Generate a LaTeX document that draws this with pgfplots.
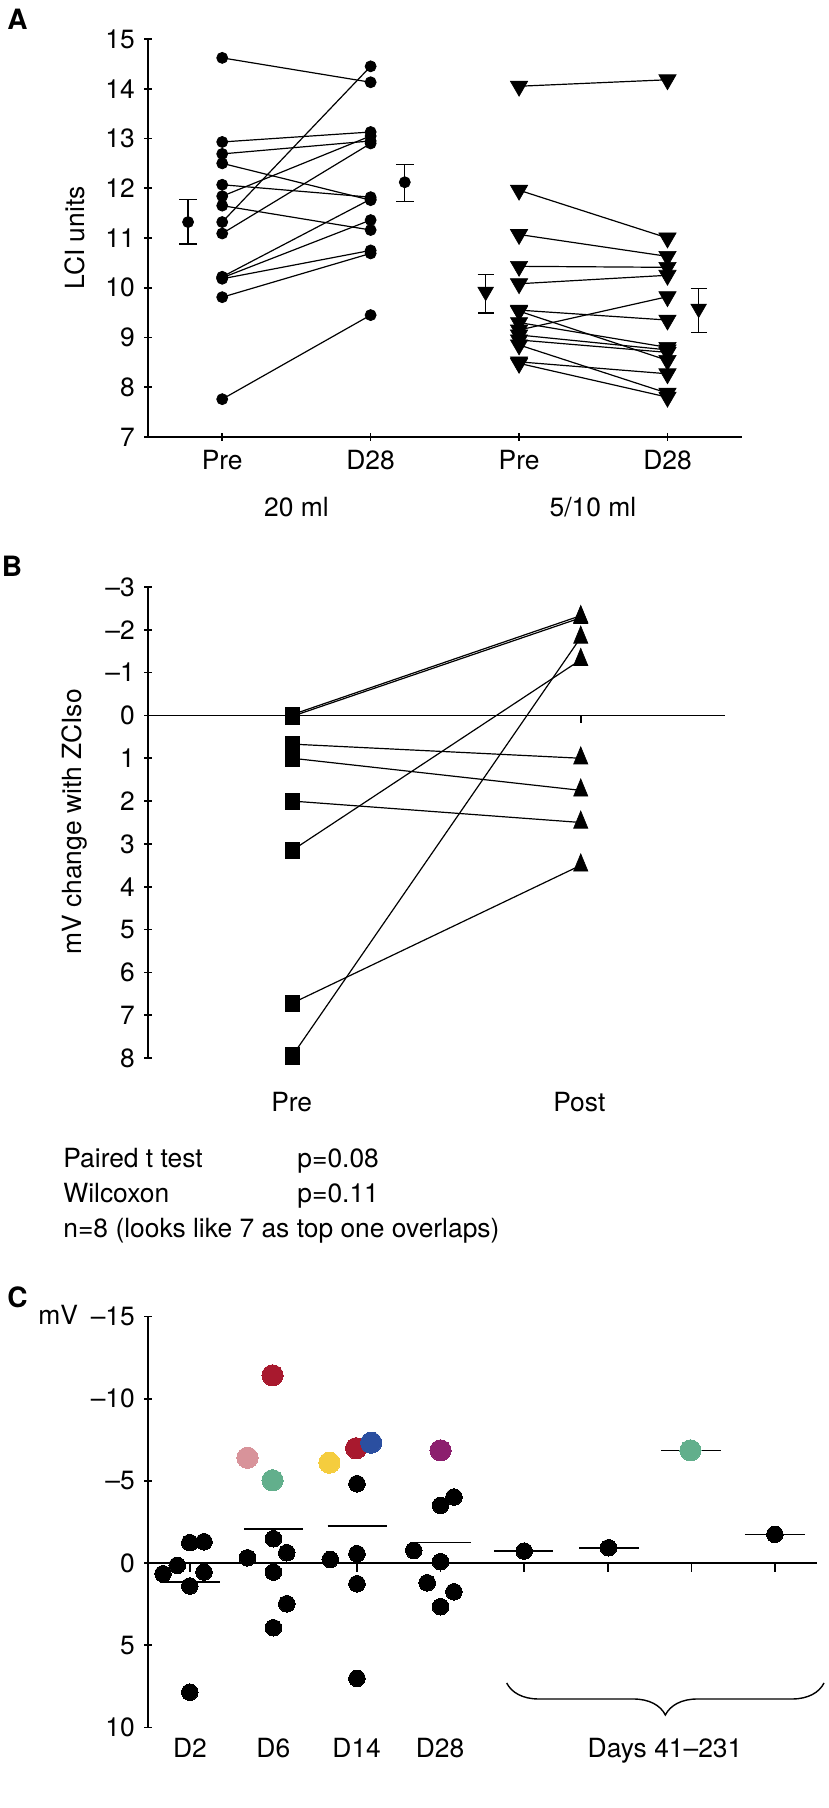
\documentclass[border=0pt]{standalone}
\usepackage{pgfplots}
\pgfplotsset{compat=1.18}
\usepackage{fontspec}
\setmainfont{TeX Gyre Heros}
\usetikzlibrary{decorations.pathreplacing}
\definecolor{cred}{HTML}{A8192E}
\definecolor{cblue}{HTML}{2B4FA0}
\definecolor{cyellow}{HTML}{F5CD3E}
\definecolor{cpink}{HTML}{D8939A}
\definecolor{cgreen}{HTML}{62AF8C}
\definecolor{cpurple}{HTML}{8C1F6E}
\pgfplotsset{
  pA/.style={black, line width=0.6pt, mark=*, mark size=2.75pt, mark options={solid, fill=black, line width=0.4pt}},
  pB/.style={black, line width=0.6pt, mark=triangle*, mark size=5pt, mark options={solid, fill=black, rotate=180, line width=0.3pt}},
  pL/.style={black, line width=0.6pt, mark=none},
  pS/.style={black, only marks, mark=square*, mark size=3.4pt, mark options={solid, fill=black, yscale=1.2, line width=0.3pt}},
  pT/.style={black, only marks, mark=triangle*, mark size=4.1pt, mark options={solid, fill=black, yscale=1.4, line width=0.3pt}},
  cdot/.style={only marks, mark=*, mark size=5.3pt, color=#1, mark options={draw=#1, fill=#1, line width=0pt}},
  common/.style={scale only axis, anchor=south west, clip=false,
    tick align=outside, major tick length=4pt,
    every tick/.style={black, line width=0.8pt},
    tick label style={font=\fontsize{13.2}{15.8}\selectfont},
    /pgf/number format/assume math mode=true},
}
\begin{document}
\fontsize{13.2}{15.8}\selectfont
\begin{tikzpicture}
\path[use as bounding box] (0,0) rectangle (414.5pt,904pt);
% ---------------- Panel A
\begin{axis}[common, at={(74pt,685.5pt)}, width=296.85pt, height=199pt,
  xmin=0.5, xmax=4.5, ymin=7, ymax=15,
  axis lines=left, axis line style={-, line width=0.8pt},
  xtick={1,2,3,4}, xticklabels={Pre,D28,Pre,D28},
  ytick={7,8,...,15}]
% 20 ml pairs
\addplot[pA] coordinates {(1,14.62) (2,14.13)};
\addplot[pA] coordinates {(1,12.93) (2,13.13)};
\addplot[pA] coordinates {(1,12.69) (2,12.95)};
\addplot[pA] coordinates {(1,12.50) (2,11.76)};
\addplot[pA] coordinates {(1,12.07) (2,11.82)};
\addplot[pA] coordinates {(1,11.84) (2,13.05)};
\addplot[pA] coordinates {(1,11.65) (2,11.16)};
\addplot[pA] coordinates {(1,11.32) (2,14.45)};
\addplot[pA] coordinates {(1,11.09) (2,12.90)};
\addplot[pA] coordinates {(1,10.22) (2,11.78)};
\addplot[pA] coordinates {(1,10.20) (2,11.36)};
\addplot[pA] coordinates {(1,10.18) (2,10.75)};
\addplot[pA] coordinates {(1,9.81) (2,10.69)};
\addplot[pA] coordinates {(1,7.76) (2,9.45)};
% 5/10 ml pairs
\addplot[pB] coordinates {(3,14.05) (4,14.18)};
\addplot[pB] coordinates {(3,11.96) (4,11.00)};
\addplot[pB] coordinates {(3,11.07) (4,10.63)};
\addplot[pB] coordinates {(3,10.43) (4,10.41)};
\addplot[pB] coordinates {(3,10.08) (4,10.25)};
\addplot[pB] coordinates {(3,9.55) (4,9.35)};
\addplot[pB] coordinates {(3,9.53) (4,8.54)};
\addplot[pB] coordinates {(3,9.15) (4,9.82)};
\addplot[pB] coordinates {(3,9.30) (4,8.80)};
\addplot[pB] coordinates {(3,9.05) (4,8.75)};
\addplot[pB] coordinates {(3,8.95) (4,8.70)};
\addplot[pB] coordinates {(3,8.85) (4,7.88)};
\addplot[pB] coordinates {(3,8.51) (4,8.27)};
\addplot[pB] coordinates {(3,8.48) (4,7.80)};
% means with error bars
\addplot[pA, only marks, error bars/.cd, y dir=both, y explicit, error mark=|,
  error mark options={black, line width=0.6pt, mark size=4.5pt},
  error bar style={black, line width=0.6pt}]
  coordinates {(0.77,11.32) += (0,0.45) -= (0,0.44)
               (2.23,12.12) += (0,0.36) -= (0,0.39)};
\addplot[pB, mark size=4.5pt, only marks, error bars/.cd, y dir=both, y explicit, error mark=|,
  error mark options={black, line width=0.6pt, mark size=4pt},
  error bar style={black, line width=0.6pt}]
  coordinates {(2.775,9.92) += (0,0.35) -= (0,0.43)
               (4.21,9.58) += (0,0.41) -= (0,0.48)};
\end{axis}
\node[anchor=base west, inner sep=0pt, font=\fontsize{14}{16}\bfseries\selectfont] at (3.5pt,889pt) {A};
\node[rotate=90] at (37.5pt,785pt) {LCI units};
\node[anchor=base] at (148.25pt,645.7pt) {20 ml};
\node[anchor=base] at (296.5pt,645.7pt) {5/10 ml};
% ---------------- Panel B
\begin{axis}[common, at={(74pt,375pt)}, width=288.5pt, height=235.5pt,
  xmin=0.5, xmax=2.5, ymin=-3, ymax=8, y dir=reverse,
  axis y line=left, axis x line=none, axis line style={-, line width=0.8pt},
  ytick={-3,-2,...,8}, yticklabels={–3,–2,–1,0,1,2,3,4,5,6,7,8}]
\draw[line width=0.8pt] (axis cs:0.5,0) -- (axis cs:2.5,0);
\draw[line width=0.8pt] (axis cs:2,0) -- ([yshift=-4pt]axis cs:2,0);
\draw[line width=0.8pt] (axis cs:1,0) -- ([yshift=-4pt]axis cs:1,0);
\addplot[pL] coordinates {(1,0.02) (2,-2.28)};
\addplot[pL] coordinates {(1,-0.02) (2,-2.33)};
\addplot[pL] coordinates {(1,0.67) (2,1.0)};
\addplot[pL] coordinates {(1,1.0) (2,1.75)};
\addplot[pL] coordinates {(1,2.0) (2,2.5)};
\addplot[pL] coordinates {(1,3.15) (2,-1.3)};
\addplot[pL] coordinates {(1,6.72) (2,3.5)};
\addplot[pL] coordinates {(1,7.95) (2,-1.82)};
\addplot[pS] coordinates {(1,0) (1,0.02) (1,0.67) (1,1.0) (1,2.0) (1,3.15) (1,6.72) (1,7.95)};
\addplot[pT] coordinates {(2,-2.3) (2,-2.28) (2,-1.82) (2,-1.3) (2,1.0) (2,1.75) (2,2.5) (2,3.5)};
\end{axis}
\node[anchor=base west, inner sep=0pt, font=\fontsize{14}{16}\bfseries\selectfont] at (0.8pt,615.7pt) {B};
\node[rotate=90] at (37.5pt,493pt) {mV change with ZCIso};
\node[anchor=base] at (145.85pt,348.2pt) {Pre};
\node[anchor=base] at (289.65pt,348.2pt) {Post};
\node[anchor=base west, inner sep=0pt] at (31.5pt,320pt) {Paired t test};
\node[anchor=base west, inner sep=0pt] at (148.5pt,320pt) {p=0.08};
\node[anchor=base west, inner sep=0pt] at (31.5pt,302.7pt) {Wilcoxon};
\node[anchor=base west, inner sep=0pt] at (148.5pt,302.7pt) {p=0.11};
\node[anchor=base west, inner sep=0pt] at (31.5pt,285.3pt) {n=8 (looks like 7 as top one overlaps)};
% ---------------- Panel C
\begin{axis}[common, at={(74pt,40.35pt)}, width=334.35pt, height=205.3pt,
  xmin=0.5, xmax=8.5, ymin=-15, ymax=10, y dir=reverse,
  axis y line=left, axis x line=none, axis line style={-, line width=0.8pt},
  ytick={-15,-10,...,10}, yticklabels={–15,–10,–5,0,5,10}]
\draw[line width=0.8pt] (axis cs:0.5,0) -- (axis cs:8.5,0);
\draw[line width=0.8pt] (axis cs:1,0) -- ([yshift=-4.5pt]axis cs:1,0);
\draw[line width=0.8pt] (axis cs:2,0) -- ([yshift=-4.5pt]axis cs:2,0);
\draw[line width=0.8pt] (axis cs:3,0) -- ([yshift=-4.5pt]axis cs:3,0);
\draw[line width=0.8pt] (axis cs:4,0) -- ([yshift=-4.5pt]axis cs:4,0);
\draw[line width=0.8pt] (axis cs:5,0) -- ([yshift=-4.5pt]axis cs:5,0);
\draw[line width=0.8pt] (axis cs:6,0) -- ([yshift=-4.5pt]axis cs:6,0);
\draw[line width=0.8pt] (axis cs:7,0) -- ([yshift=-4.5pt]axis cs:7,0);
\draw[line width=0.8pt] (axis cs:8,0) -- ([yshift=-4.5pt]axis cs:8,0);
% mean lines
\addplot[black, line width=0.8pt] coordinates {(0.64,1.14) (1.36,1.14)};
\addplot[black, line width=0.8pt] coordinates {(1.65,-2.09) (2.36,-2.09)};
\addplot[black, line width=0.8pt] coordinates {(2.65,-2.25) (3.36,-2.25)};
\addplot[black, line width=0.8pt] coordinates {(3.64,-1.24) (4.36,-1.24)};
\addplot[black, line width=0.8pt] coordinates {(4.64,-0.73) (5.35,-0.73)};
\addplot[black, line width=0.8pt] coordinates {(5.66,-0.93) (6.37,-0.93)};
\addplot[black, line width=0.8pt] coordinates {(6.64,-6.86) (7.36,-6.86)};
\addplot[black, line width=0.8pt] coordinates {(7.64,-1.75) (8.36,-1.75)};
% black points
\addplot[only marks, mark=*, mark size=4.15pt, black, mark options={draw=black, fill=black, line width=0pt}] coordinates {
  (0.68,0.65) (0.85,0.14) (1,-1.24) (1.17,-1.30) (1.17,0.55) (1,1.40) (1,7.86)
  (1.69,-0.32) (2,-1.48) (2.16,-0.63) (2,0.55) (2.16,2.48) (2,3.94)
  (2.68,-0.22) (3,-0.57) (3,-4.83) (3,1.26) (3,7.02)
  (4.16,-4.02) (4,-3.51) (3.68,-0.77) (4,-0.08) (3.84,1.20) (4.16,1.75) (4,2.66)
  (5,-0.73) (6.01,-0.93) (8,-1.75)};
% coloured points
\addplot[cdot=cred] coordinates {(1.99,-11.43)};
\addplot[cdot=cpink] coordinates {(1.69,-6.41)};
\addplot[cdot=cgreen] coordinates {(1.99,-5.04)};
\addplot[cdot=cyellow] coordinates {(2.67,-6.11)};
\addplot[cdot=cred] coordinates {(2.99,-6.99)};
\addplot[cdot=cblue] coordinates {(3.17,-7.33)};
\addplot[cdot=cpurple] coordinates {(4,-6.86)};
\addplot[cdot=cgreen] coordinates {(6.99,-6.86)};
\end{axis}
\node[anchor=base west, inner sep=0pt, font=\fontsize{14}{16}\bfseries\selectfont] at (3.5pt,250pt) {C};
\node[anchor=base west, inner sep=0pt] at (19pt,241.5pt) {mV};
\node[anchor=base] at (95pt,25pt) {D2};
\node[anchor=base] at (136.67pt,25pt) {D6};
\node[anchor=base] at (178.33pt,25pt) {D14};
\node[anchor=base] at (220pt,25pt) {D28};
\node[anchor=base] at (332.5pt,25pt) {Days 41–231};
\draw[decorate, decoration={brace, mirror, amplitude=16pt}, line width=0.7pt] (253.35pt,62.5pt) -- (412pt,62.5pt);
\end{tikzpicture}
\end{document}
